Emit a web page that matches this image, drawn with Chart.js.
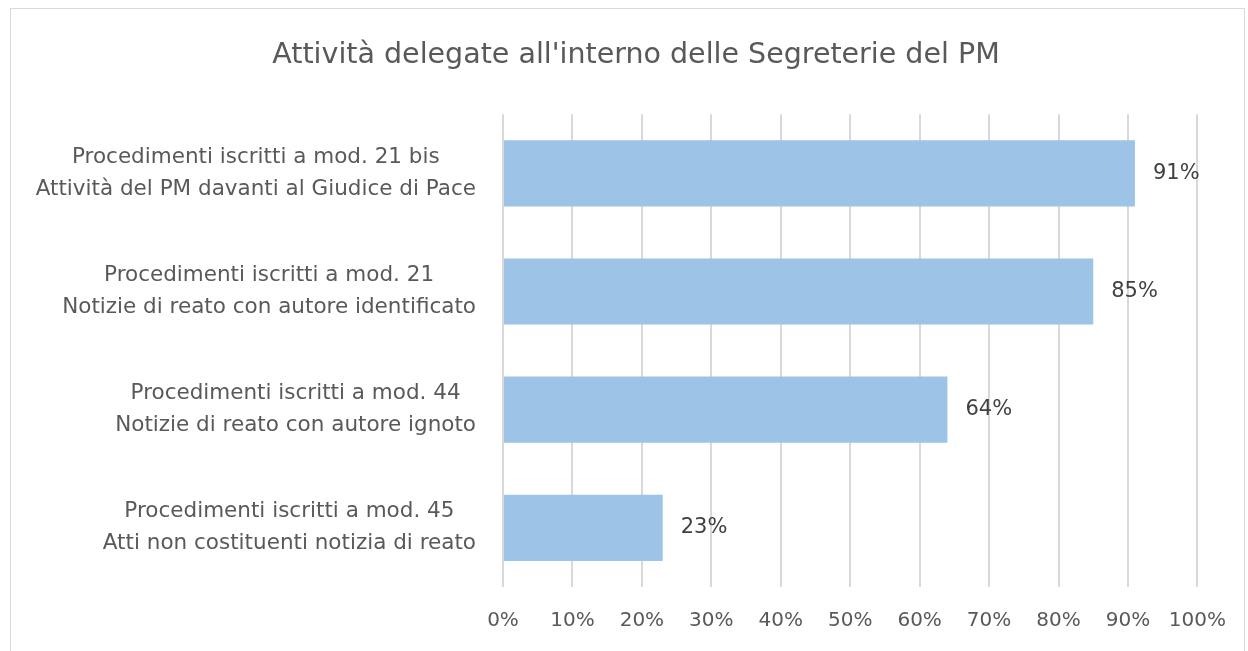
<!DOCTYPE html>
<html>
<head>
<meta charset="utf-8">
<script src="https://cdn.jsdelivr.net/npm/chart.js@4/dist/chart.umd.min.js"></script>
<style>
  html, body { margin: 0; padding: 0; background: #fff; }
  #wrap { position: relative; width: 1248px; height: 651px; }
  #frame { position: absolute; left: 10px; top: 8px; width: 1235px; height: 660px;
           border: 1px solid #d9d9d9; box-sizing: border-box; pointer-events: none; }
</style>
</head>
<body>
<div id="wrap">
  <canvas id="chart" width="1248" height="651"></canvas>
  <div id="frame"></div>
</div>
<script>
const categories = [
    ['Procedimenti iscritti a mod. 21 bis', 'Attività del PM davanti al Giudice di Pace'],
    ['Procedimenti iscritti a mod. 21', 'Notizie di reato con autore identificato'],
    ['Procedimenti iscritti a mod. 44', 'Notizie di reato con autore ignoto'],
    ['Procedimenti iscritti a mod. 45', 'Atti non costituenti notizia di reato']
];
const values = [91, 85, 64, 23];
const valueLabels = ['91%', '85%', '64%', '23%'];
const xTicks = [0, 10, 20, 30, 40, 50, 60, 70, 80, 90, 100];

const FONT = '"DejaVu Sans", sans-serif';

// labels on the left: each block right-aligned, lines centred inside the block
const categoryLabels = {
    id: 'categoryLabels',
    afterDraw(chart) {
        const ctx = chart.ctx;
        const y = chart.scales.y;
        const right = chart.chartArea.left - 27;
        ctx.save();
        ctx.font = '21.5px ' + FONT;
        ctx.fillStyle = '#595959';
        ctx.textAlign = 'center';
        ctx.textBaseline = 'middle';
        categories.forEach((lines, i) => {
            const w = Math.max(...lines.map(l => ctx.measureText(l).width));
            const cx = right - w / 2;
            const cy = y.getPixelForValue(i);
            const lh = 32;
            lines.forEach((l, j) => {
                ctx.fillText(l, cx, cy + (j - (lines.length - 1) / 2) * lh);
            });
        });
        ctx.restore();
    }
};

// percentage labels after the bars
const valueTags = {
    id: 'valueTags',
    afterDatasetsDraw(chart) {
        const ctx = chart.ctx;
        const meta = chart.getDatasetMeta(0);
        ctx.save();
        ctx.font = '21px ' + FONT;
        ctx.fillStyle = '#404040';
        ctx.textAlign = 'left';
        ctx.textBaseline = 'middle';
        meta.data.forEach((bar, i) => {
            ctx.fillText(valueLabels[i], bar.x + 18, bar.y);
        });
        ctx.restore();
    }
};

new Chart(document.getElementById('chart').getContext('2d'), {
    type: 'bar',
    data: {
        labels: categories,
        datasets: [{
            data: values,
            backgroundColor: '#9dc3e6',
            borderWidth: 0,
            categoryPercentage: 1,
            barPercentage: 0.56
        }]
    },
    options: {
        indexAxis: 'y',
        responsive: false,
        animation: false,
        layout: { padding: { left: 73, right: 49, top: 0, bottom: 0 } },
        plugins: {
            legend: { display: false },
            tooltip: { enabled: false },
            title: {
                display: true,
                text: "Attività delegate all'interno delle Segreterie del PM",
                color: '#595959',
                font: { family: FONT, size: 28.5, weight: 'normal' },
                padding: { top: 38, bottom: 42 }
            }
        },
        scales: {
            x: {
                min: 0,
                max: 100,
                afterBuildTicks(scale) {
                    scale.ticks = xTicks.map(v => ({ value: v }));
                },
                afterFit(scale) { scale.height = 64; },
                grid: { color: '#d9d9d9', lineWidth: 2, drawTicks: false },
                border: { display: false },
                ticks: {
                    color: '#595959',
                    font: { family: FONT, size: 20 },
                    padding: 22,
                    callback: v => v + '%'
                }
            },
            y: {
                afterFit(scale) { scale.width = 430; },
                grid: { display: false },
                border: { display: false },
                ticks: { display: false }
            }
        }
    },
    plugins: [categoryLabels, valueTags]
});
</script>
</body>
</html>
